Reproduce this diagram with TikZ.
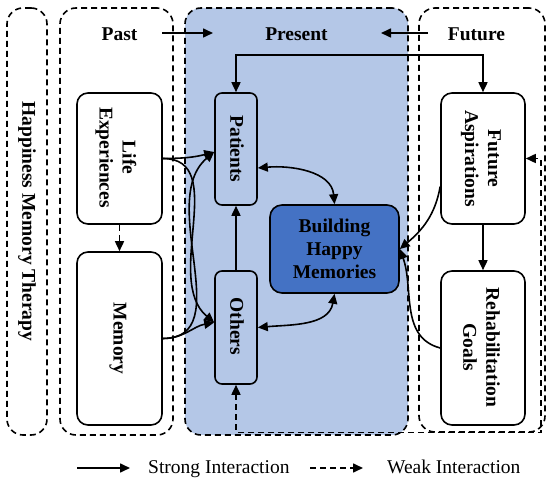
\documentclass[tikz,border=0pt]{standalone}
\usepackage{fontspec}
\setmainfont{Liberation Serif}
\usetikzlibrary{arrows.meta}
\definecolor{presentblue}{HTML}{B4C7E7}
\definecolor{bhmblue}{HTML}{4472C4}
\begin{document}
\begin{tikzpicture}[x=1pt,y=1pt,
  font=\fontsize{19.5}{23}\selectfont\bfseries,
  container/.style={draw, line width=1.6pt, dash pattern=on 6pt off 4pt, rounded corners=16pt, inner sep=0pt},
  wbox/.style={draw, line width=1.6pt, rounded corners=11pt, fill=white, inner sep=0pt},
  sbox/.style={draw, line width=1.6pt, rounded corners=7pt, inner sep=0pt},
  rtext/.style={rotate=-90, align=center, inner sep=0pt},
  tip/.tip={Triangle[length=10pt,width=9pt]},
  arr/.style={line width=1.6pt, -tip},
  darr/.style={line width=1.6pt, tip-tip},
  weak/.style={dash pattern=on 6pt off 4pt},
  legtext/.style={font=\fontsize{19.5}{23}\selectfont, anchor=base west, inner sep=0pt},
]
\useasboundingbox (0,0) rectangle (550,480);

% containers
\node[container, fill=presentblue, minimum width=223pt, minimum height=427pt] (pres) at (296.5,258.5) {};
\node[container, minimum width=40pt, minimum height=427pt] (hmt) at (27,258.5) {};
\node[container, minimum width=113pt, minimum height=427pt] (past) at (116.5,258.5) {};
\node[container, minimum width=126pt, minimum height=424pt] (fut) at (482,260) {};

% headings
\node[rotate=-90, inner sep=0pt] (hmtt) at (27,258.5) {Happiness Memory Therapy};
\node[inner sep=0pt] (pastt) at (119.5,446) {Past};
\node[inner sep=0pt] (prest) at (296.5,446) {Present};
\node[inner sep=0pt] (futt) at (476.5,446) {Future};
\coordinate (pa1) at (162,447);
\coordinate (pa2) at (213,447);
\coordinate (fa1) at (428,447);
\coordinate (fa2) at (381,447);
\draw[arr] (pa1) -- (pa2);
\draw[arr] (fa1) -- (fa2);

% boxes
\node[wbox, minimum width=85pt, minimum height=131pt] (LE) at (119.5,321.5) {};
\node[rtext] (LEt) at (116,322.5) {Life\\Experiences};
\node[wbox, minimum width=85pt, minimum height=173pt] (MEM) at (119.5,141.5) {};
\node[rtext] (MEMt) at (118,141.5) {Memory};
\node[sbox, minimum width=42pt, minimum height=112pt] (PAT) at (236,331) {};
\node[rtext] (PATt) at (237,331) {Patients};
\node[sbox, minimum width=42pt, minimum height=113pt] (OTH) at (236,152.5) {};
\node[rtext] (OTHt) at (237,153.5) {Others};
\node[draw, line width=1.6pt, rounded corners=12pt, fill=bhmblue, minimum width=129pt, minimum height=88pt, align=center, inner sep=0pt] (BHM) at (334.5,231) {Building\\Happy\\Memories};
\node[wbox, minimum width=84pt, minimum height=131pt] (FA) at (483,321.5) {};
\node[rtext] (FAt) at (481,321.5) {Future\\Aspirations};
\node[wbox, minimum width=84pt, minimum height=154pt] (RG) at (483,132) {};
\node[rtext] (RGt) at (481.5,132.5) {Rehabilitation\\Goals};

% connectors
\draw[darr] (PAT.north) |- (360,425) -| (FA.north);
\draw[arr, weak] (LE.south) -- (MEM.north);
\draw[arr] (LE.east) to[out=0,in=195] ([yshift=-3pt]PAT.west);
\draw[arr] (LE.east) to[out=0,in=140] ([yshift=5pt]OTH.west);
\draw[arr] (MEM.east) to[out=0,in=220] ([yshift=-3pt]PAT.west);
\draw[arr] (MEM.east) to[out=0,in=190] ([yshift=5pt]OTH.west);
\draw[arr] (OTH.north) -- (PAT.south);
\draw[darr] ([yshift=-19pt]PAT.east) to[out=5,in=95] (BHM.north);
\draw[darr] (OTH.east) to[out=5,in=-100] (BHM.south);
\draw[arr] ([yshift=-28pt]FA.west) to[out=-100,in=40] (BHM.east);
\draw[arr] (RG.west) to[out=165,in=-70] (BHM.east);
\draw[arr] (FA.south) -- (RG.north);
\coordinate (wk1) at (541,47.5);
\draw[darr, weak] (OTH.south) |- (wk1) |- (FA.east);

% legend
\coordinate (ls1) at (77,12);
\coordinate (ls2) at (130,12);
\draw[arr] (ls1) -- (ls2);
\node[legtext] (lst) at (148,6) {Strong Interaction};
\coordinate (lw1) at (310,12);
\coordinate (lw2) at (363,12);
\draw[arr, weak] (lw1) -- (lw2);
\node[legtext] (lwt) at (387,6) {Weak Interaction};
\end{tikzpicture}
\end{document}
